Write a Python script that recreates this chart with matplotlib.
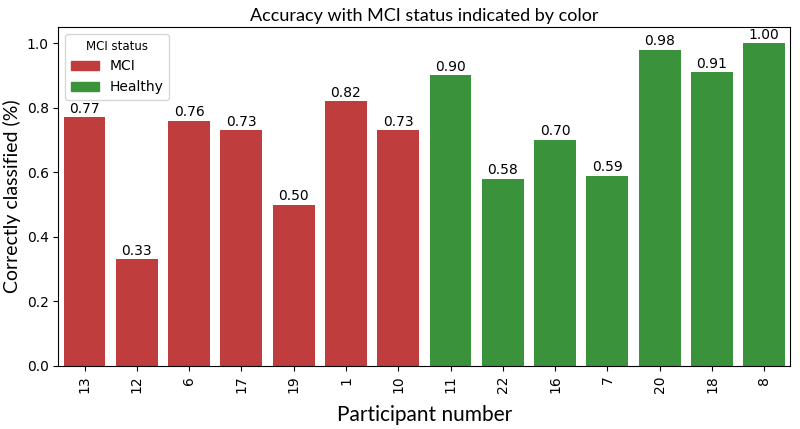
import matplotlib
matplotlib.use("Agg")
import matplotlib.pyplot as plt
from matplotlib.patches import Patch
import seaborn as sns

participants = ["13", "12", "6", "17", "19", "1", "10", "11", "22", "16", "7", "20", "18", "8"]
accuracy = [0.77, 0.33, 0.76, 0.73, 0.50, 0.82, 0.73, 0.90, 0.58, 0.70, 0.59, 0.98, 0.91, 1.00]
status = ["MCI"] * 7 + ["Healthy"] * 7
status_names = ["MCI", "Healthy"]

red = sns.desaturate("#d62728", 0.75)
green = sns.desaturate("#2ca02c", 0.75)
colors = {"MCI": red, "Healthy": green}

fig = plt.figure(figsize=(8, 4.29), dpi=100)
ax = fig.add_axes([0.073, 0.147, 0.915, 0.79])

x = range(len(participants))
bars = ax.bar(x, accuracy, width=0.8, color=[colors[s] for s in status])
for b, v in zip(bars, accuracy):
    ax.text(b.get_x() + b.get_width() / 2, v + 0.005, f"{v:.2f}", ha="center", va="bottom", fontsize=10)

ax.set_xticks(list(x))
ax.set_xticklabels(participants, rotation=90, fontsize=10)
ax.set_xlim(-0.5, len(participants) - 0.5)
ax.set_ylim(0, 1.05)
ax.set_yticks([0.0, 0.2, 0.4, 0.6, 0.8, 1.0])
ax.tick_params(axis="y", labelsize=10)

ax.set_title("Accuracy with MCI status indicated by color", fontsize=13, family="Lato", pad=4)
ax.set_xlabel("Participant number", fontsize=15, family="Lato", labelpad=8)
ax.set_ylabel("Correctly classified (%)", fontsize=14, family="Lato")

handles = [Patch(color=colors[s], label=s) for s in status_names]
ax.legend(handles=handles, title="MCI status", loc="upper left", fontsize=10, title_fontsize=8.5)

fig.savefig("out.png", dpi=100)
